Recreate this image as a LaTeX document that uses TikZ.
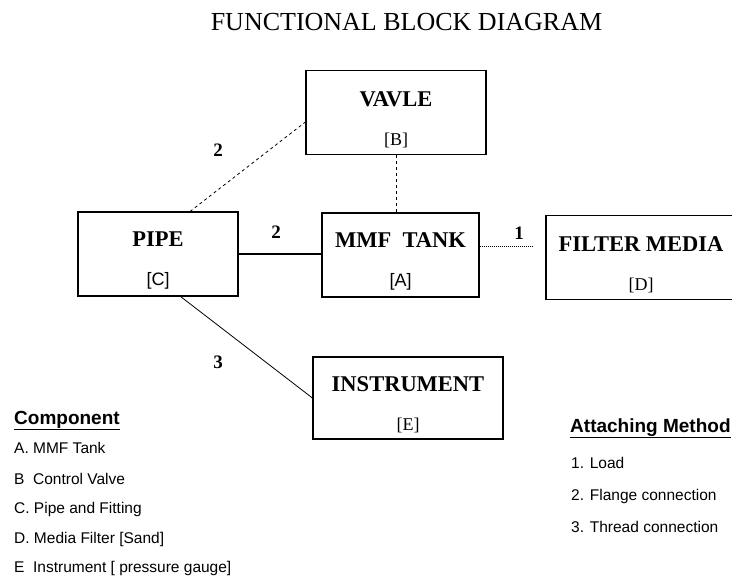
\documentclass[tikz,border=0pt]{standalone}
\usepackage{fontspec}
\setmainfont{Liberation Serif}
\setsansfont{Liberation Sans}
\tikzset{
  blockbox/.style={draw,line width=1.2bp,minimum height=84bp,inner sep=0pt,align=center,
    font=\fontsize{22.5bp}{27bp}\selectfont\bfseries},
  linknum/.style={inner sep=0pt,font=\fontsize{19bp}{22bp}\selectfont\bfseries},
  legendhead/.style={anchor=base west,inner sep=0pt,font=\sffamily\bfseries\fontsize{19bp}{22bp}\selectfont},
  legenditem/.style={anchor=base west,inner sep=0pt,font=\sffamily\fontsize{15.5bp}{18bp}\selectfont},
}
% code letter under each block name
\newcommand{\serifcode}[1]{{\mdseries\fontsize{18bp}{21bp}\selectfont[#1]}}
\newcommand{\sanscode}[1]{{\sffamily\mdseries\fontsize{18bp}{21bp}\selectfont[#1]}}
\newcommand{\topstrut}{\rule{0pt}{28.5bp}}
\begin{document}
\begin{tikzpicture}[x=1bp,y=-1bp]
\useasboundingbox(0,0)rectangle(732,579);
\node[anchor=base,inner sep=0pt,font=\fontsize{26bp}{30bp}\selectfont] (title) at (406.5,31) {FUNCTIONAL BLOCK DIAGRAM};

% blocks
\node[blockbox,minimum width=180bp] (valve) at (396,112.5) {\topstrut VAVLE\\[12bp]\serifcode{B}};
\node[blockbox,minimum width=160bp] (pipe) at (158,254) {\topstrut PIPE\\[12bp]\sanscode{C}};
\node[blockbox,minimum width=157bp] (tank) at (400.5,255) {\topstrut MMF~~TANK\\[12bp]\sanscode{A}};
\node[blockbox,minimum width=190bp] (filter) at (641,257.5) {\topstrut FILTER MEDIA\\[12bp]\serifcode{D}};
\node[blockbox,minimum width=190bp,minimum height=82bp] (gauge) at (408,398) {\topstrut INSTRUMENT\\[12bp]\serifcode{E}};

% attachments
\draw[dashed,line width=0.8bp](pipe.53)--(valve.186);
\draw[dashed,line width=0.8bp](valve.south)--(valve.south|-tank.north);
\draw[line width=1.4bp](pipe.east)--(pipe.east-|tank.west);
\draw[densely dotted,line width=1bp,shorten >=12bp](tank.6)--(tank.6-|filter.west);
\draw[line width=0.8bp](pipe.298)--(gauge.west);
\node[linknum] (flangeA) at (218,150) {2};
\node[linknum] (flangeB) at (276,232) {2};
\node[linknum] (load) at (519,233) {1};
\node[linknum] (thread) at (218,362) {3};

% legend
\node[legendhead] (comphead) at (14,424) {\underline{Component}};
\node[legenditem] (compA) at (14,453.5) {A. MMF Tank};
\node[legenditem] (compB) at (14,484.5) {B\ \ Control Valve};
\node[legenditem] (compC) at (14,513.5) {C. Pipe and Fitting};
\node[legenditem] (compD) at (14,543.5) {D. Media Filter [Sand]};
\node[legenditem] (compE) at (14,572.5) {E\ \ Instrument [ pressure gauge]};
\node[legendhead] (methhead) at (570,432) {\underline{Attaching Method}};
\node[legenditem] (methA) at (571,468.5) {1. Load};
\node[legenditem] (methB) at (571,500.5) {2. Flange connection};
\node[legenditem] (methC) at (571,532.5) {3. Thread connection};
\end{tikzpicture}
\end{document}
